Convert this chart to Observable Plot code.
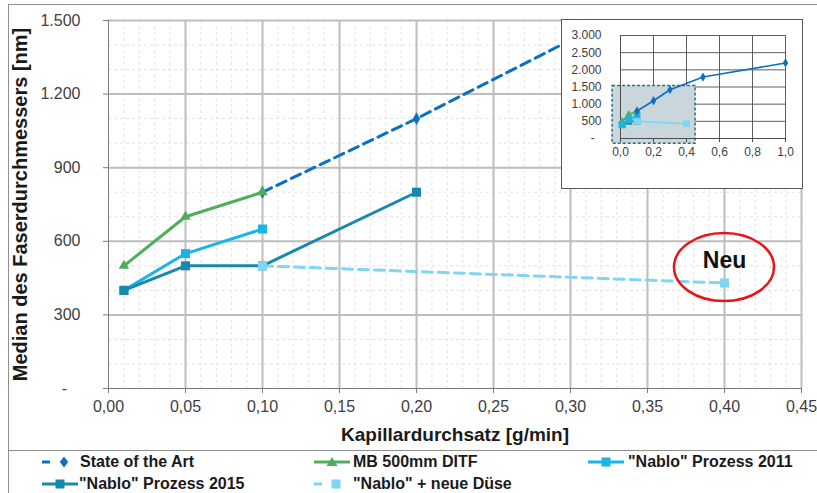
<!DOCTYPE html>
<html><head><meta charset="utf-8">
<script src="https://cdn.jsdelivr.net/npm/d3@7"></script>
<script src="https://cdn.jsdelivr.net/npm/@observablehq/plot@0.6"></script>
<style>
body{margin:0;background:#fff;font-family:"Liberation Sans",Arial,sans-serif;}
#chart{position:relative;width:817px;height:493px;overflow:hidden;background:#fff;}
#frame{position:absolute;left:8px;top:4px;width:820px;height:500px;border-left:1.5px solid #8f8f8f;border-top:1.5px solid #8f8f8f;}
#main{position:absolute;left:0;top:0;}
#inset{position:absolute;left:561px;top:19px;width:240px;height:168px;background:#fff;border:1px solid #595959;}
#sep{position:absolute;left:8px;top:450px;width:809px;height:0;border-top:1.5px solid #8f8f8f;}
.item{position:absolute;height:18px;line-height:18px;font-weight:bold;font-size:16px;color:#1a1a1a;white-space:nowrap;}
.sw{position:absolute;top:2px;}
g[aria-label="y-axis label"], g[aria-label="x-axis label"]{font-weight:bold;fill:#1a1a1a;}
g[aria-label="y-axis label"]{font-size:20px;}
g[aria-label="x-axis label"]{font-size:19px;}
</style>
</head><body>
<div id="chart">
  <div id="frame"></div>
  <div id="main"></div>
  <div id="inset"></div>
  <div id="sep"></div>
  <div id="legend"></div>
</div>
<script>
// ---- data ----
const seriesNames = ["State of the Art", "MB 500mm DITF", "\"Nablo\" Prozess 2011", "\"Nablo\" Prozess 2015", "\"Nablo\" + neue Düse"];
const sotaX = [0.1, 0.2, 0.3, 0.5, 1.0];
const sotaY = [800, 1100, 1420, 1790, 2200];
const mbX = [0.01, 0.05, 0.1];
const mbY = [500, 700, 800];
const n2011X = [0.01, 0.05, 0.1];
const n2011Y = [400, 550, 650];
const n2015X = [0.01, 0.05, 0.1, 0.2];
const n2015Y = [400, 500, 500, 800];
const duseX = [0.1, 0.4];
const duseY = [500, 430];
// inset (older overview) shows the 2015 process only up to 0.1 g/min
const insetN2015X = [0.01, 0.05, 0.1];
const insetN2015Y = [400, 500, 500];

const xTicks = [0, 0.05, 0.1, 0.15, 0.2, 0.25, 0.3, 0.35, 0.4, 0.45];
const yTicks = [0, 300, 600, 900, 1200, 1500];
const insetXTicks = [0, 0.2, 0.4, 0.6, 0.8, 1.0];
const insetYTicks = [0, 500, 1000, 1500, 2000, 2500, 3000];
const insetZoomX = [-0.048, 0.455];
const insetZoomY = [-150, 1530];
const neuLabel = ["Neu"];
const neuX = [0.4];
const neuTextY = [522];
const neuEllipseY = [493];

const colors = ["#0a70c2", "#4fae5c", "#1ab4e6", "#1789ad", "#7fd6f2"];
const symbols = ["diamond", "triangle", "square", "square", "square"];
const dashes = ["10,6", null, null, null, "10,6"];

const toRows = (xs, ys) => xs.map((x, i) => ({x, y: ys[i]}));
const series = [
  toRows(sotaX, sotaY), toRows(mbX, mbY), toRows(n2011X, n2011Y),
  toRows(n2015X, n2015Y), toRows(duseX, duseY)
];
const insetSeries = [
  toRows(sotaX, sotaY), toRows(mbX, mbY), toRows(n2011X, n2011Y),
  toRows(insetN2015X, insetN2015Y), toRows(duseX, duseY)
];

const deNum = d => d === 0 ? "-\u00a0\u00a0\u00a0" : d3.format(",")(d).replace(/,/g, ".");
const deX2 = d => d3.format(".2f")(d).replace(".", ",");
const deX1 = d => d3.format(".1f")(d).replace(".", ",");

const xMinor = d3.range(0, 45.5, 1).map(d => d / 100);
const yMinor = d3.range(0, 1501, 100);

// ---- main plot ----
const mainMarks = [
  Plot.ruleX(xMinor, {stroke: "#e3e3e3", strokeDasharray: "3,3"}),
  Plot.ruleY(yMinor, {stroke: "#e3e3e3", strokeDasharray: "3,3"}),
  Plot.ruleX(xTicks.slice(1), {stroke: "#bdbdbd", strokeWidth: 2}),
  Plot.ruleY(yTicks.slice(1), {stroke: "#bdbdbd", strokeWidth: 2}),
  Plot.ruleX([0], {stroke: "#7a7a7a", strokeWidth: 1}),
  Plot.ruleY([0], {stroke: "#7a7a7a", strokeWidth: 1}),
  Plot.axisX(xTicks, {tickFormat: deX2, tickSize: 5, tickPadding: 7, fontSize: 16, stroke: "#7a7a7a", color: "#404040",
    label: "Kapillardurchsatz [g/min]", labelAnchor: "center", labelOffset: 52, labelArrow: "none"}),
  Plot.axisY(yTicks, {tickFormat: deNum, tickSize: 5, tickPadding: 23, fontSize: 16, stroke: "#7a7a7a", color: "#404040",
    label: "Median des Faserdurchmessers [nm]", labelAnchor: "center", labelOffset: 96, labelArrow: "none"})
];
series.forEach((rows, i) => {
  mainMarks.push(Plot.line(rows, {x: "x", y: "y", stroke: colors[i], strokeWidth: 3, strokeDasharray: dashes[i], clip: true}));
  mainMarks.push(Plot.dot(rows, {x: "x", y: "y", symbol: () => symbols[i], fill: colors[i], stroke: null,
    r: symbols[i] === "square" ? 5.1 : 3.9, clip: true}));
});
mainMarks.push(Plot.text(neuLabel, {x: (d, i) => neuX[i], y: (d, i) => neuTextY[i], text: d => d, fontSize: 23, fontWeight: "bold", fill: "#111"}));

const main = Plot.plot({
  width: 817, height: 450,
  marginLeft: 108, marginRight: 16, marginTop: 20, marginBottom: 62,
  x: {domain: [0, 0.45]},
  y: {domain: [0, 1500]},
  style: {fontFamily: "'Liberation Sans', Arial, sans-serif", background: "transparent", color: "#404040", overflow: "visible"},
  marks: mainMarks
});
const sx = main.scale("x"), sy = main.scale("y");
d3.select(main).append("ellipse")
  .attr("cx", sx.apply(neuX[0])).attr("cy", sy.apply(neuEllipseY[0]))
  .attr("rx", 50).attr("ry", 34)
  .attr("fill", "none").attr("stroke", "#e8141b").attr("stroke-width", 2.5);
document.getElementById("main").appendChild(main);

// ---- inset ----
const insetMarks = [
  Plot.ruleX(insetXTicks.slice(1), {stroke: "#4d4d4d", strokeWidth: 0.9}),
  Plot.ruleY(insetYTicks.slice(1), {stroke: "#4d4d4d", strokeWidth: 0.9}),
  Plot.rect([0], {x1: () => insetZoomX[0], x2: () => insetZoomX[1], y1: () => insetZoomY[0], y2: () => insetZoomY[1],
    fill: "#c9d6db", stroke: "#2c6f80", strokeWidth: 1.5, strokeDasharray: "3,2"}),
  Plot.ruleX([0], {stroke: "#4d4d4d"}),
  Plot.ruleY([0], {stroke: "#4d4d4d"}),
  Plot.axisX(insetXTicks, {tickFormat: deX1, tickSize: 4, tickPadding: 5, fontSize: 12, stroke: "#4d4d4d", color: "#404040", label: null}),
  Plot.axisY(insetYTicks, {tickFormat: d => d === 0 ? "-\u00a0\u00a0" : deNum(d), tickSize: 0, tickPadding: 19, fontSize: 12, color: "#404040", label: null})
];
[1, 3, 2, 4, 0].forEach(i => {
  insetMarks.push(Plot.line(insetSeries[i], {x: "x", y: "y", stroke: colors[i], strokeWidth: 1.6}));
  insetMarks.push(Plot.dot(insetSeries[i], {x: "x", y: "y", symbol: () => symbols[i], fill: colors[i], stroke: null,
    r: symbols[i] === "square" ? 3.8 : 2.8}));
});
const inset = Plot.plot({
  width: 240, height: 168,
  marginLeft: 58, marginRight: 17, marginTop: 15, marginBottom: 50,
  x: {domain: [0, 1]},
  y: {domain: [0, 3000]},
  style: {fontFamily: "'Liberation Sans', Arial, sans-serif", background: "transparent", color: "#404040", overflow: "visible"},
  marks: insetMarks
});
document.getElementById("inset").appendChild(inset);

// ---- legend ----
const legendPos = [
  {sx: 41, tx: 80, y: 462}, {sx: 313, tx: 353, y: 462}, {sx: 587, tx: 628, y: 462},
  {sx: 41, tx: 79, y: 484}, {sx: 313, tx: 353, y: 484}
];
function markerPath(sym, cx, cy) {
  if (sym === "diamond") return `<path d="M${cx},${cy-5.5}L${cx+4.2},${cy}L${cx},${cy+5.5}L${cx-4.2},${cy}Z"/>`;
  if (sym === "triangle") return `<path d="M${cx},${cy-5}L${cx+5.5},${cy+4}L${cx-5.5},${cy+4}Z"/>`;
  return `<rect x="${cx-4.5}" y="${cy-4.5}" width="9" height="9"/>`;
}
seriesNames.forEach((name, i) => {
  const p = legendPos[i];
  const dashed = dashes[i] !== null;
  const sw = `<svg class="sw" width="38" height="14" style="left:0px">
    <line x1="1" x2="37" y1="7" y2="7" stroke="${colors[i]}" stroke-width="3" ${dashed ? 'stroke-dasharray="8,100"' : ""}/>
    <g fill="${colors[i]}">${markerPath(symbols[i], dashed ? 23 : 19, 7)}</g></svg>`;
  const sDiv = document.createElement("div");
  sDiv.className = "item";
  sDiv.style.left = p.sx + "px"; sDiv.style.top = (p.y - 9) + "px"; sDiv.style.width = "38px";
  sDiv.innerHTML = sw;
  document.getElementById("chart").appendChild(sDiv);
  const t = document.createElement("div");
  t.className = "item";
  t.style.left = p.tx + "px"; t.style.top = (p.y - 9) + "px";
  t.textContent = name;
  document.getElementById("chart").appendChild(t);
});
</script>
</body></html>
